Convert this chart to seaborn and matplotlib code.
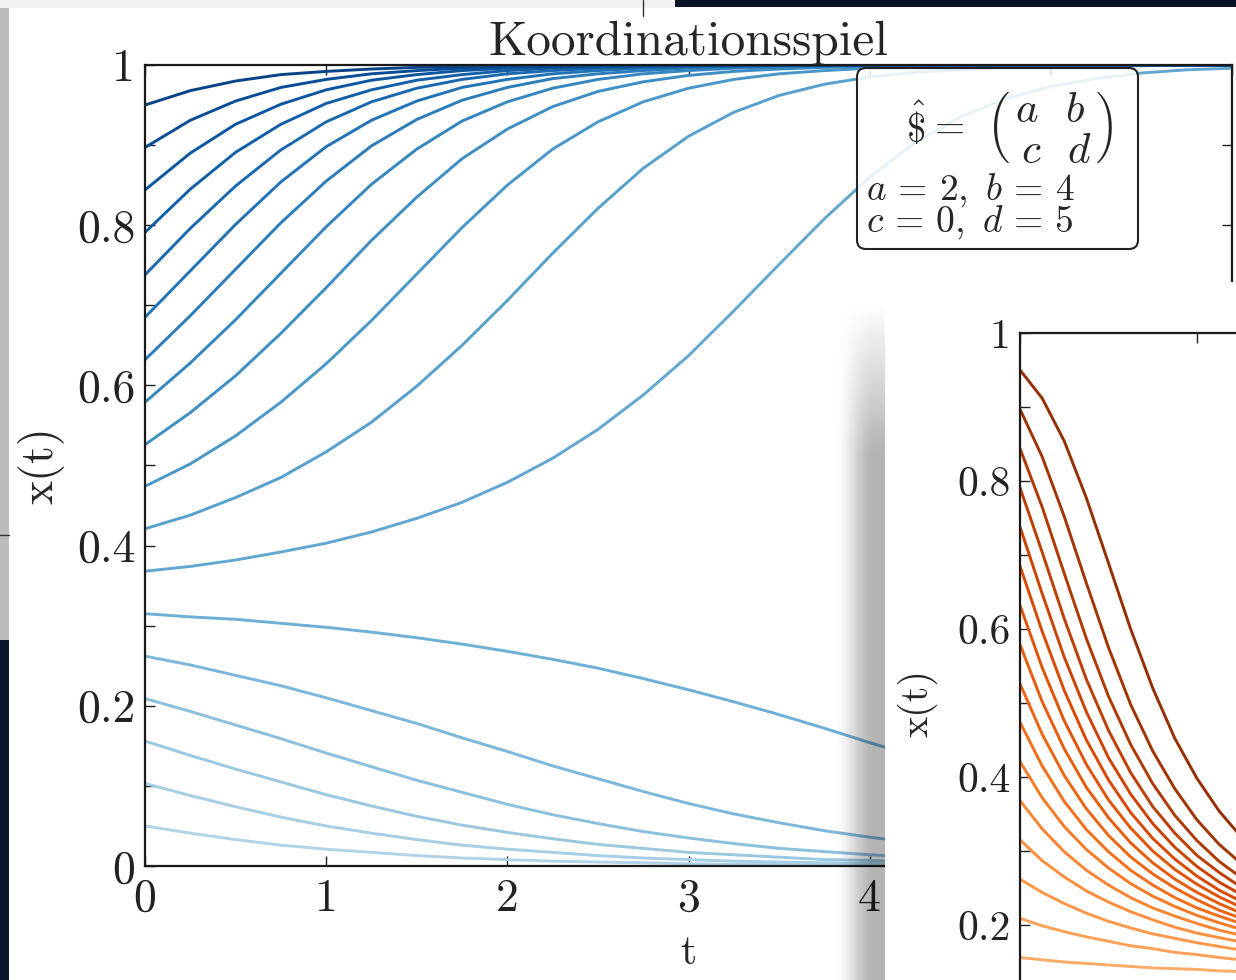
import numpy as np
import pandas as pd
import matplotlib
matplotlib.use('Agg')
import matplotlib.pyplot as plt
import seaborn as sns
from matplotlib.patches import Rectangle, FancyBboxPatch
from matplotlib.ticker import MultipleLocator, FuncFormatter

W, H = 1236, 980

# --- main plot: Koordinationsspiel, x(t) in thousandths per start value
t_main = [0, 0.25, 0.5, 0.75, 1, 1.25, 1.5, 1.75, 2, 2.25, 2.5, 2.75, 3,
          3.25, 3.5, 3.75, 4, 4.25, 4.5, 4.75, 5, 5.25, 5.5, 5.75, 6]

b050 = [50, 41, 33, 26, 21, 17, 13, 10, 8, 6, 5, 4, 3, 2, 2, 1, 1, 1, 1, 1, 0, 0, 0, 0, 0]
b103 = [103, 88, 74, 61, 50, 41, 33, 26, 21, 17, 13, 10, 8, 6, 5, 4, 3, 2, 2, 1, 1, 1, 1, 1, 0]
b156 = [156, 138, 121, 105, 89, 75, 62, 51, 42, 34, 27, 22, 17, 14, 11, 8, 7, 5, 4, 3, 2, 2, 1, 1, 1]
b209 = [209, 193, 176, 159, 141, 124, 107, 92, 77, 64, 53, 43, 35, 28, 22, 18, 14, 11, 9, 7, 5, 4, 3, 3, 2]
b262 = [262, 251, 238, 225, 210, 194, 178, 160, 143, 125, 109, 93, 78, 65, 54, 44, 36, 29, 23, 18, 14, 11, 9, 7, 5]
b315 = [315, 311, 308, 303, 298, 292, 285, 277, 268, 258, 247, 234, 220, 205, 189, 172, 154, 137, 120, 103, 88, 74, 61, 50, 41]
b368 = [368, 374, 382, 392, 403, 417, 434, 454, 479, 509, 545, 588, 637, 693, 751, 808, 860, 903, 935, 958, 973, 983, 990, 994, 996]
b421 = [421, 438, 460, 485, 517, 554, 599, 650, 706, 765, 821, 871, 911, 941, 962, 976, 985, 991, 994, 997, 998, 999, 999, 1000, 1000]
b474 = [474, 502, 537, 579, 627, 681, 739, 797, 850, 895, 929, 954, 971, 982, 989, 993, 996, 997, 998, 999, 999, 1000, 1000, 1000, 1000]
b526 = [526, 566, 612, 665, 722, 781, 835, 883, 920, 948, 967, 979, 987, 992, 995, 997, 998, 999, 999, 1000, 1000, 1000, 1000, 1000, 1000]
b579 = [579, 628, 682, 740, 798, 851, 895, 930, 954, 971, 982, 989, 993, 996, 997, 998, 999, 999, 1000, 1000, 1000, 1000, 1000, 1000, 1000]
b632 = [632, 687, 745, 803, 855, 899, 932, 956, 972, 983, 989, 993, 996, 998, 999, 999, 999, 1000, 1000, 1000, 1000, 1000, 1000, 1000, 1000]
b685 = [685, 743, 801, 854, 898, 931, 955, 972, 982, 989, 993, 996, 998, 998, 999, 999, 1000, 1000, 1000, 1000, 1000, 1000, 1000, 1000, 1000]
b738 = [738, 796, 849, 894, 929, 954, 971, 982, 989, 993, 996, 997, 998, 999, 999, 1000, 1000, 1000, 1000, 1000, 1000, 1000, 1000, 1000, 1000]
b791 = [791, 845, 891, 926, 952, 969, 981, 988, 993, 996, 997, 998, 999, 999, 1000, 1000, 1000, 1000, 1000, 1000, 1000, 1000, 1000, 1000, 1000]
b844 = [844, 890, 926, 951, 969, 981, 988, 993, 996, 997, 998, 999, 999, 1000, 1000, 1000, 1000, 1000, 1000, 1000, 1000, 1000, 1000, 1000, 1000]
b897 = [897, 931, 955, 972, 982, 989, 993, 996, 998, 998, 999, 999, 1000, 1000, 1000, 1000, 1000, 1000, 1000, 1000, 1000, 1000, 1000, 1000, 1000]
b950 = [950, 968, 980, 988, 992, 995, 997, 998, 999, 999, 1000, 1000, 1000, 1000, 1000, 1000, 1000, 1000, 1000, 1000, 1000, 1000, 1000, 1000, 1000]
blue_curves = [b050, b103, b156, b209, b262, b315, b368, b421, b474,
               b526, b579, b632, b685, b738, b791, b844, b897, b950]
blue_start = [0.050, 0.103, 0.156, 0.209, 0.262, 0.315, 0.368, 0.421, 0.474,
              0.526, 0.579, 0.632, 0.685, 0.738, 0.791, 0.844, 0.897, 0.950]

# --- second window in front (only the part that is visible)
t_front = [0, 0.125, 0.25, 0.375, 0.5, 0.625, 0.75, 0.875, 1, 1.125, 1.25, 1.375, 1.5]

o156 = [156, 153, 150, 148, 146, 144, 142, 141, 140, 138, 137, 136, 135]
o209 = [209, 199, 191, 184, 178, 172, 168, 163, 160, 156, 153, 151, 148]
o262 = [262, 244, 229, 216, 205, 196, 188, 182, 176, 171, 166, 162, 158]
o315 = [315, 287, 265, 246, 231, 218, 207, 197, 189, 183, 177, 171, 167]
o368 = [368, 330, 299, 274, 254, 237, 223, 212, 202, 193, 186, 179, 174]
o421 = [421, 372, 333, 302, 277, 256, 239, 225, 213, 203, 194, 186, 180]
o474 = [474, 415, 367, 329, 299, 274, 254, 237, 223, 212, 202, 193, 186]
o526 = [526, 458, 402, 357, 321, 292, 269, 250, 234, 220, 209, 199, 191]
o579 = [579, 502, 438, 386, 345, 311, 284, 262, 244, 229, 216, 206, 196]
o632 = [632, 548, 476, 417, 369, 331, 300, 275, 255, 238, 224, 212, 202]
o685 = [685, 597, 517, 450, 396, 352, 317, 289, 266, 247, 232, 219, 208]
o738 = [738, 648, 562, 488, 426, 377, 337, 305, 279, 258, 241, 226, 214]
o791 = [791, 704, 614, 532, 463, 406, 360, 324, 294, 271, 251, 235, 221]
o844 = [844, 765, 675, 587, 509, 444, 391, 348, 314, 286, 264, 246, 230]
o897 = [897, 833, 752, 662, 575, 498, 435, 384, 342, 309, 283, 261, 243]
o950 = [950, 912, 854, 777, 689, 600, 520, 452, 398, 354, 319, 290, 267]
orange_curves = [o156, o209, o262, o315, o368, o421, o474, o526,
                 o579, o632, o685, o738, o791, o844, o897, o950]
orange_start = [0.156, 0.209, 0.262, 0.315, 0.368, 0.421, 0.474, 0.526,
                0.579, 0.632, 0.685, 0.738, 0.791, 0.844, 0.897, 0.950]

sns.set_style('ticks')
plt.rcParams['font.family'] = ['cmr10', 'DejaVu Serif']
plt.rcParams['mathtext.fontset'] = 'cm'
plt.rcParams['axes.formatter.use_mathtext'] = True
plt.rcParams['axes.unicode_minus'] = False

fig = plt.figure(figsize=(W / 100, H / 100), dpi=100, facecolor='white')

blues = plt.get_cmap('Blues')
oranges = plt.get_cmap('Oranges')

fmt = FuncFormatter(lambda v, p: '%g' % round(v, 3))


def long_form(times, curves, starts):
    rows = []
    for s, c in zip(starts, curves):
        for t, v in zip(times, c):
            rows.append((t, v / 1000, s))
    return pd.DataFrame(rows, columns=['t', 'x', 'x0'])


def style_axes(a, fs):
    a.set_ylim(0, 1)
    a.yaxis.set_major_locator(MultipleLocator(0.2))
    a.yaxis.set_minor_locator(MultipleLocator(0.1))
    a.xaxis.set_major_locator(MultipleLocator(1))
    a.xaxis.set_major_formatter(fmt)
    a.yaxis.set_major_formatter(fmt)
    a.tick_params(which='both', direction='in', length=7, width=1, top=True, right=True,
                  colors='#222222', labelsize=fs, pad=7)
    a.tick_params(axis='x', pad=9)
    for s in a.spines.values():
        s.set_linewidth(1.6)
        s.set_color('#1a1a1a')


# main axes
ax = fig.add_axes([145 / W, (H - 866) / H, 1087 / W, 801 / H])
df_b = long_form(t_main, blue_curves, blue_start)
pal_b = {s: blues(0.28 + 0.68 * s) for s in blue_start}
sns.lineplot(data=df_b, x='t', y='x', hue='x0', palette=pal_b, legend=False,
             estimator=None, sort=False, linewidth=2.1, ax=ax)
ax.set_xlim(0, 6)
style_axes(ax, 33)
ax.set_xlabel('t', fontsize=30)
ax.set_ylabel('x(t)', fontsize=33)
ax.xaxis.set_label_coords(0.5, -0.085)
ax.yaxis.set_label_coords(-0.074, 0.5)
ax.set_title('Koordinationsspiel', fontsize=35.5, pad=4)

# overlay in pixel coordinates: screen edges, legend box, shadow, front window
ov = fig.add_axes([0, 0, 1, 1], zorder=5)
ov.set_xlim(0, W)
ov.set_ylim(H, 0)
ov.axis('off')
ov.patch.set_alpha(0)

ov.add_patch(Rectangle((0, 0), 9, 640, color='#bcbcbc', lw=0))
ov.add_patch(Rectangle((0, 640), 9, 340, color='#0b1628', lw=0))
ov.add_patch(Rectangle((0, 0), 675, 8, color='#f2f2f2', lw=0))
ov.add_patch(Rectangle((675, 0), W - 675, 7, color='#0a1324', lw=0))
ov.plot([0, 9], [535, 535], color='#333333', lw=1)
ov.plot([643, 643], [0, 16], color='#333333', lw=1)

# legend box with payoff matrix
ov.add_patch(FancyBboxPatch((857, 68), 281, 181, boxstyle='round,pad=0,rounding_size=9',
                            facecolor='white', alpha=0.85, lw=0))
ov.add_patch(FancyBboxPatch((857, 68), 281, 181, boxstyle='round,pad=0,rounding_size=9',
                            facecolor='none', edgecolor='#222222', lw=1.5))
ov.text(916, 127, r'$\hat{\$}$', fontsize=28, ha='center', va='center')
ov.text(946, 128, r'$=$', fontsize=28, ha='center', va='center')
ov.text(1050, 127, r'$\left(\genfrac{}{}{0}{0}{a\;\;\, b}{\ c\;\;\, d}\right)$',
        fontsize=31, ha='center', va='center')
ov.text(866, 190, r'$a\, =\, 2,\ b\, =\, 4$', fontsize=27, ha='left', va='center')
ov.text(866, 222, r'$c\, =\, 0,\ d\, =\, 5$', fontsize=27, ha='left', va='center')

# soft shadow of the front window
gx = np.linspace(0, 1, 60)
gy = np.linspace(0, 1, 200)
sx = np.clip(gx * 1.25, 0, 1)
fade_x = sx ** 2 * (3 - 2 * sx)
fade_y = np.clip(gy * 4.5, 0, 1)
img = np.zeros((200, 60, 4))
img[..., 3] = 0.30 * np.outer(fade_y, fade_x)
ov.imshow(img, extent=(833, 886, 980, 300), aspect='auto', interpolation='bilinear')
ov.add_patch(Rectangle((885, 282), W - 885, H - 282, facecolor='white', lw=0))

# front window axes (runs past the picture edge)
ins = fig.add_axes([1020 / W, (H - 1073) / H, 531 / W, 740 / H], zorder=6)
df_o = long_form(t_front, orange_curves, orange_start)
pal_o = {s: oranges(0.28 + 0.68 * s) for s in orange_start}
sns.lineplot(data=df_o, x='t', y='x', hue='x0', palette=pal_o, legend=False,
             estimator=None, sort=False, linewidth=2.1, ax=ins)
ins.set_xlim(0, 3)
style_axes(ins, 30)
ins.tick_params(axis='x', labelbottom=False)
ins.set_xlabel('')
ins.set_ylabel('x(t)', fontsize=29)
ins.yaxis.set_label_coords(-0.155, 0.5)

fig.savefig('out.png', dpi=100)
